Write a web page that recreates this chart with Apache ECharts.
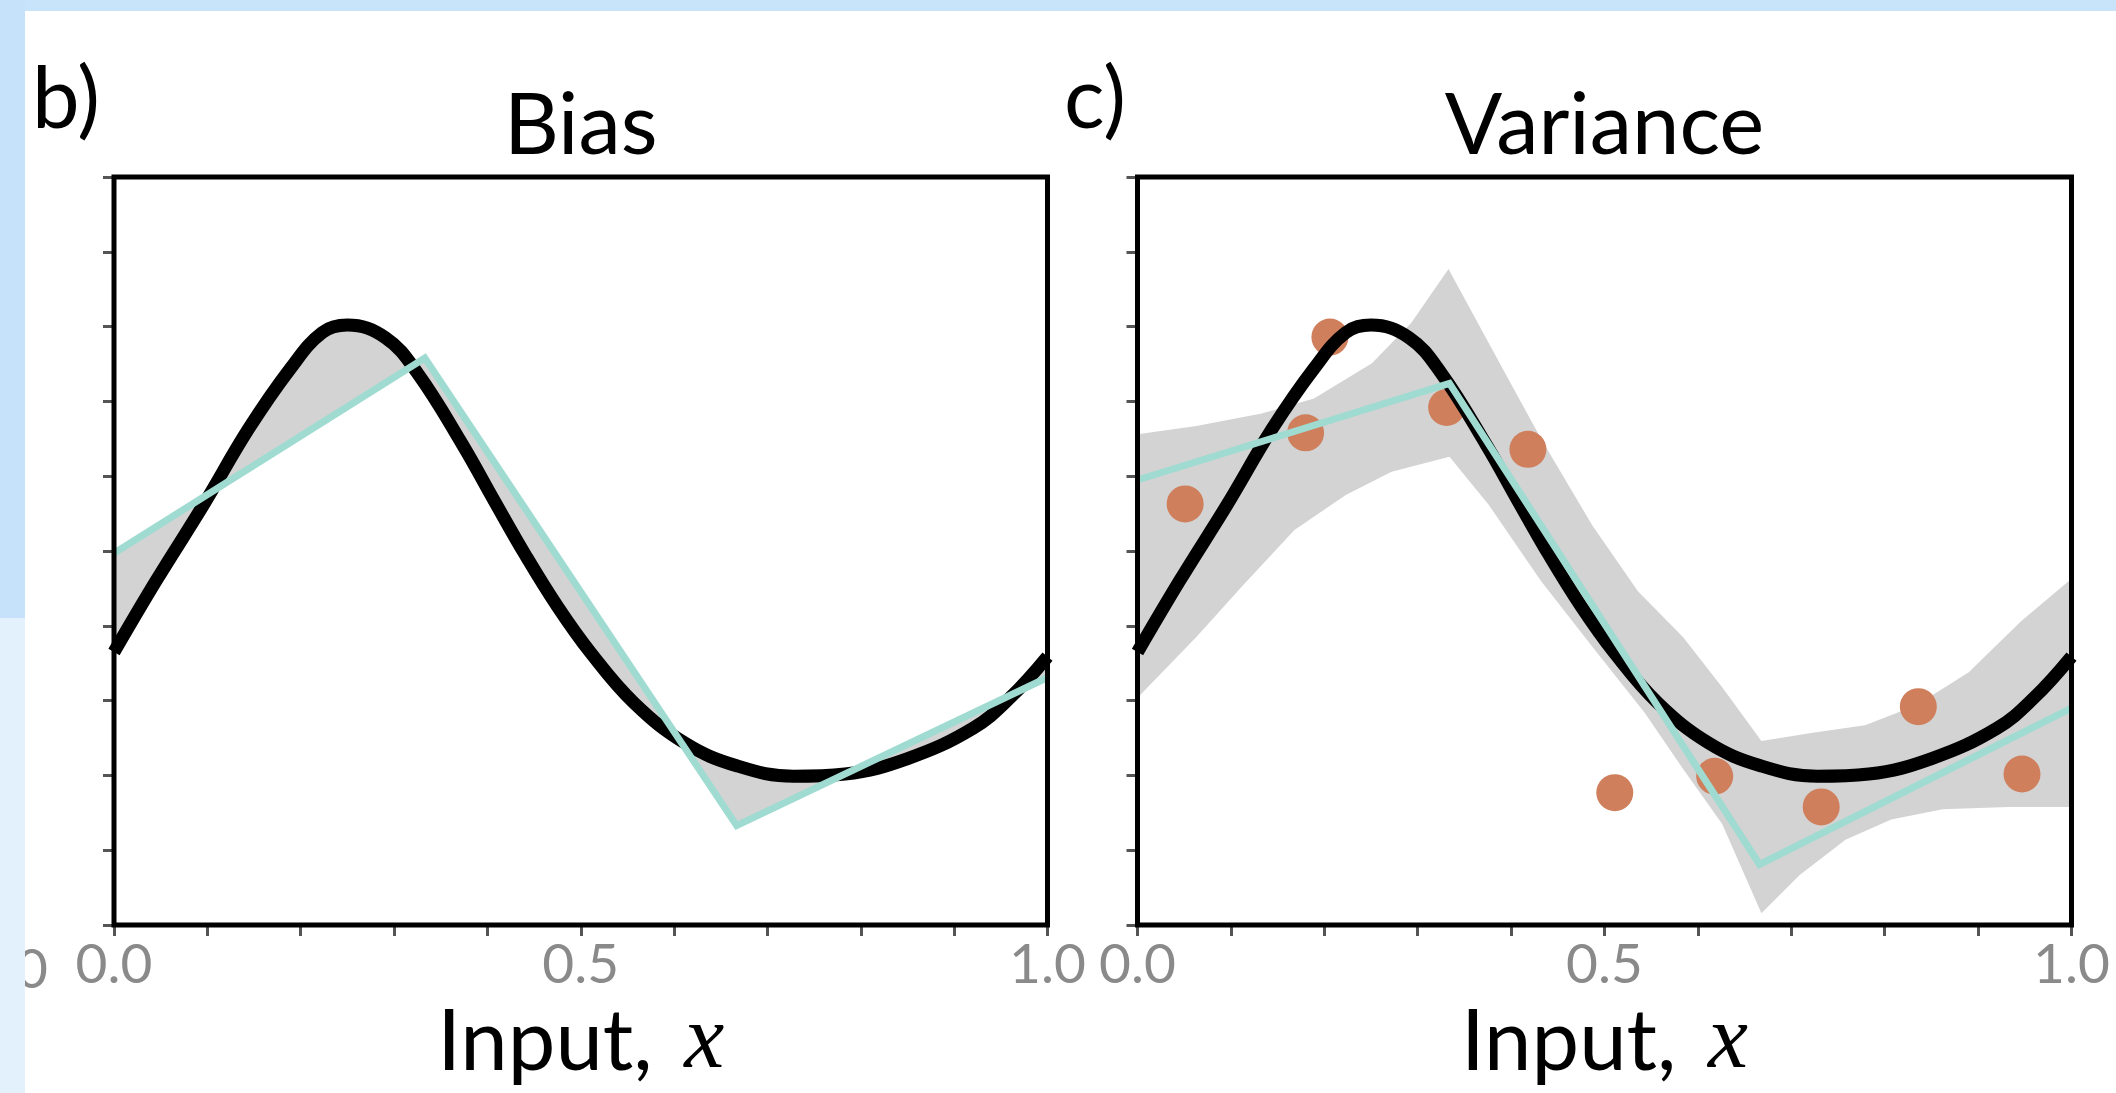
<!DOCTYPE html>
<html><head><meta charset="utf-8">
<script src="https://cdn.jsdelivr.net/npm/echarts@6/dist/echarts.min.js"></script>
<style>html,body{margin:0;padding:0;background:#fff;overflow:hidden}#c{width:2116px;height:1093px}</style>
</head><body><div id="c"></div>
<script>
// ---- data ----
const xTickValues = [0, 0.5, 1];
const xTickLabels = ['0.0', '0.5', '1.0'];
const panelLetters = ['b)', 'c)'];
const panelTitles = ['Bias', 'Variance'];

// true function (black curve)
const trueX = [0, 0.045, 0.096, 0.144, 0.189, 0.223, 0.25, 0.291, 0.325, 0.373, 0.407, 0.441, 0.475, 0.51, 0.557, 0.612, 0.667, 0.728, 0.783, 0.851, 0.92, 0.96, 1.0];
const trueY = [0.365, 0.46, 0.562, 0.663, 0.744, 0.792, 0.802, 0.785, 0.738, 0.643, 0.568, 0.494, 0.426, 0.365, 0.297, 0.243, 0.213, 0.199, 0.202, 0.223, 0.263, 0.304, 0.359];

// mean fitted model (bias panel, cyan)
const biasFitX = [0, 0.333, 0.667, 1];
const biasFitY = [0.497, 0.758, 0.133, 0.331];

// one fitted model (variance panel, cyan)
const varFitX = [0, 0.334, 0.666, 1];
const varFitY = [0.595, 0.724, 0.081, 0.29];

// variance band
const bandUpperX = [0, 0.063, 0.133, 0.189, 0.251, 0.293, 0.333, 0.376, 0.432, 0.487, 0.536, 0.584, 0.626, 0.668, 0.723, 0.779, 0.834, 0.89, 0.946, 1.0];
const bandUpperY = [0.656, 0.667, 0.684, 0.704, 0.751, 0.805, 0.877, 0.778, 0.65, 0.534, 0.446, 0.385, 0.318, 0.246, 0.257, 0.267, 0.294, 0.338, 0.406, 0.463];
const bandLowerX = [0, 0.063, 0.112, 0.168, 0.223, 0.272, 0.334, 0.376, 0.432, 0.487, 0.543, 0.584, 0.626, 0.668, 0.709, 0.758, 0.807, 0.862, 0.932, 1.0];
const bandLowerY = [0.304, 0.385, 0.453, 0.528, 0.575, 0.606, 0.626, 0.562, 0.46, 0.372, 0.284, 0.209, 0.135, 0.016, 0.067, 0.114, 0.141, 0.155, 0.158, 0.158];

// training data (orange dots)
const dotX = [0.051, 0.18, 0.206, 0.331, 0.418, 0.511, 0.618, 0.732, 0.836, 0.947];
const dotY = [0.563, 0.658, 0.786, 0.692, 0.636, 0.177, 0.199, 0.158, 0.292, 0.202];

// ---- styles ----
const BLACK = '#000000', CYAN = '#9fdbd1', GREY = '#d3d3d3', DOT = '#cf7f5c', TICKGREY = '#555555', LABELGREY = '#8a8a8a';
const FONT = 'Lato';

const pairs = (xs, ys) => xs.map((x, i) => [x, ys[i]]);

function bandSeries(idx, topX, topY, botX, botY) {
  return {
    type: 'custom', xAxisIndex: idx, yAxisIndex: idx, z: 1, silent: true,
    data: [[0, 0]],
    renderItem: function (params, api) {
      const pts = [];
      for (let i = 0; i < topX.length; i++) pts.push(api.coord([topX[i], topY[i]]));
      for (let i = botX.length - 1; i >= 0; i--) pts.push(api.coord([botX[i], botY[i]]));
      return { type: 'polygon', shape: { points: pts }, style: { fill: GREY } };
    }
  };
}

const grids = [
  { left: 114, top: 177, width: 933.5, height: 753 },
  { left: 1137.5, top: 177, width: 934, height: 753 }
];

function xAxisFor(idx) {
  return {
    gridIndex: idx, type: 'value', min: 0, max: 1, interval: 0.1,
    axisLine: { show: false },
    axisTick: { show: true, inside: false, length: 11, lineStyle: { color: TICKGREY, width: 3 } },
    splitLine: { show: false },
    axisLabel: {
      show: true, margin: 13, color: LABELGREY, fontFamily: FONT, fontSize: 55,
      showMinLabel: true, showMaxLabel: true,
      formatter: function (v) {
        for (let i = 0; i < xTickValues.length; i++) if (Math.abs(v - xTickValues[i]) < 1e-6) return xTickLabels[i];
        return '';
      }
    },
    name: '{a|Input, }{b|x}', nameLocation: 'middle', nameGap: 63,
    nameTextStyle: {
      rich: {
        a: { fontFamily: FONT, fontSize: 85, color: BLACK },
        b: { fontFamily: 'Liberation Serif', fontStyle: 'italic', fontSize: 90, color: BLACK, padding: [0, 0, 0, 10] }
      }
    }
  };
}
function yAxisFor(idx) {
  return {
    gridIndex: idx, type: 'value', min: 0, max: 1, interval: 0.1,
    axisLine: { show: false },
    axisTick: { show: true, inside: false, length: 11, lineStyle: { color: TICKGREY, width: 3 } },
    axisLabel: { show: false }, splitLine: { show: false }
  };
}

const titleStyle = { fontFamily: FONT, fontWeight: 'normal', fontSize: 85, color: BLACK };
const option = {
  animation: false,
  backgroundColor: '#ffffff',
  title: [
    { text: panelLetters[0], left: 32, top: 58, padding: 0, textStyle: titleStyle },
    { text: panelTitles[0], left: 580.75, top: 84, textAlign: 'center', padding: 0, textStyle: titleStyle },
    { text: panelLetters[1], left: 1064, top: 58, padding: 0, textStyle: titleStyle },
    { text: panelTitles[1], left: 1604.5, top: 84, textAlign: 'center', padding: 0, textStyle: titleStyle }
  ],
  grid: grids.map(g => Object.assign({ show: true, borderColor: BLACK, borderWidth: 5, backgroundColor: 'transparent', z: 10 }, g)),
  xAxis: [xAxisFor(0), xAxisFor(1)],
  yAxis: [yAxisFor(0), yAxisFor(1)],
  graphic: [
    { type: 'text', z: 1, style: { text: '1.0', x: 48, y: 943, align: 'right', verticalAlign: 'top', font: '55px Lato', fill: LABELGREY } },
    { type: 'rect', z: 5, shape: { x: 0, y: 0, width: 2116, height: 11 }, style: { fill: '#c7e4fb' } },
    { type: 'rect', z: 5, shape: { x: 0, y: 0, width: 25, height: 618 }, style: { fill: '#c6e2fa' } },
    { type: 'rect', z: 5, shape: { x: 0, y: 618, width: 25, height: 475 }, style: { fill: '#e3f1fd' } }
  ],
  series: [
    // Bias panel
    bandSeries(0, trueX, trueY, biasFitX, biasFitY),
    { type: 'line', xAxisIndex: 0, yAxisIndex: 0, z: 3, data: pairs(trueX, trueY), smooth: 0.4, showSymbol: false, silent: true,
      lineStyle: { color: BLACK, width: 13, cap: 'butt', join: 'round' } },
    { type: 'line', xAxisIndex: 0, yAxisIndex: 0, z: 4, data: pairs(biasFitX, biasFitY), showSymbol: false, silent: true,
      lineStyle: { color: CYAN, width: 7, join: 'miter' } },
    // Variance panel
    bandSeries(1, bandUpperX, bandUpperY, bandLowerX, bandLowerY),
    { type: 'scatter', xAxisIndex: 1, yAxisIndex: 1, z: 2, data: pairs(dotX, dotY), symbolSize: 37, silent: true,
      itemStyle: { color: DOT, opacity: 1 } },
    { type: 'line', xAxisIndex: 1, yAxisIndex: 1, z: 3, data: pairs(trueX, trueY), smooth: 0.4, showSymbol: false, silent: true,
      lineStyle: { color: BLACK, width: 13, cap: 'butt', join: 'round' } },
    { type: 'line', xAxisIndex: 1, yAxisIndex: 1, z: 4, data: pairs(varFitX, varFitY), showSymbol: false, silent: true,
      lineStyle: { color: CYAN, width: 7, join: 'miter' } }
  ]
};
const chart = echarts.init(document.getElementById('c'), null, { renderer: 'canvas' });
chart.setOption(option);
</script></body></html>
